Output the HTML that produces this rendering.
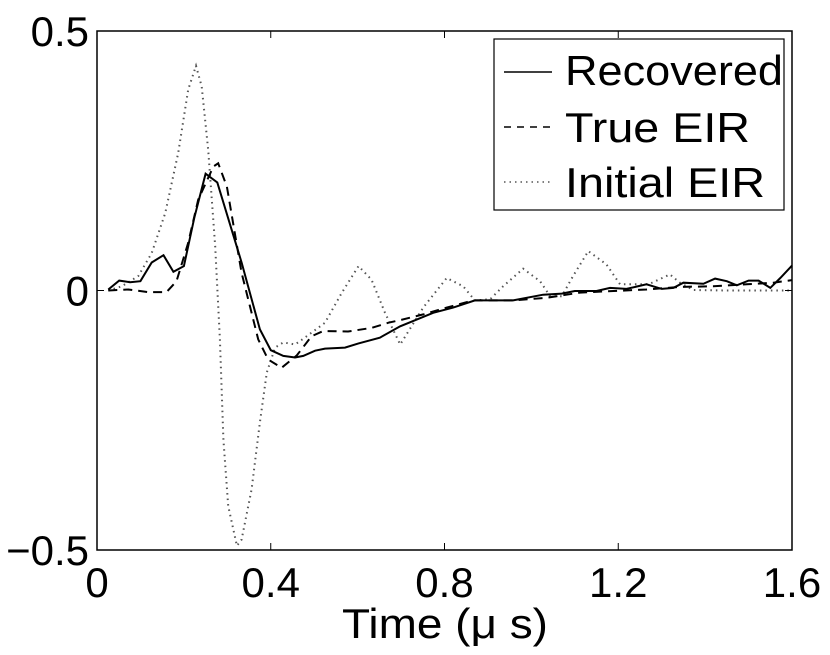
<!DOCTYPE html>
<html><head><meta charset="utf-8"><style>
body{margin:0;background:#fff}
svg{display:block;font-family:"Liberation Sans",Arial,sans-serif}
</style></head><body>
<svg id="chart" width="830" height="655" viewBox="0 0 830 655" xmlns="http://www.w3.org/2000/svg">
<rect x="0" y="0" width="830" height="655" fill="#fff"/>
<g id="marks"></g>
<rect x="97" y="31" width="695" height="519" fill="none" stroke="#000" stroke-width="1.5"/>
<g id="axes"></g>
<text x="445" y="638" font-size="42" text-anchor="middle" textLength="206" lengthAdjust="spacingAndGlyphs">Time (μ s)</text>
<g>
<rect x="494" y="39" width="290" height="171" fill="#fff" stroke="#000" stroke-width="1.2"/>
<line x1="504" y1="72" x2="552" y2="72" stroke="#000" stroke-width="1.5"/>
<text x="565" y="85" font-size="42" textLength="218" lengthAdjust="spacingAndGlyphs">Recovered</text>
<line x1="504" y1="127" x2="552" y2="127" stroke="#000" stroke-width="1.5" stroke-dasharray="7,6"/>
<text x="565" y="142" font-size="42" textLength="185" lengthAdjust="spacingAndGlyphs">True EIR</text>
<line x1="504" y1="182" x2="552" y2="182" stroke="#555" stroke-width="1.5" stroke-dasharray="1.5,4"/>
<text x="565" y="197" font-size="42" textLength="200" lengthAdjust="spacingAndGlyphs">Initial EIR</text>
</g>
</svg>
<script>
const recT=[0.026,0.051,0.076,0.1,0.126,0.153,0.176,0.2,0.224,0.25,0.277,0.333,0.375,0.4,0.429,0.456,0.475,0.502,0.525,0.571,0.602,0.651,0.698,0.736,0.774,0.82,0.87,0.92,0.958,1.027,1.07,1.1,1.15,1.181,1.219,1.265,1.3,1.327,1.35,1.396,1.423,1.45,1.473,1.5,1.523,1.55,1.573,1.6];
const recV=[0.002,0.019,0.016,0.018,0.054,0.068,0.036,0.047,0.14,0.225,0.208,0.054,-0.075,-0.115,-0.126,-0.129,-0.126,-0.116,-0.112,-0.11,-0.102,-0.091,-0.069,-0.056,-0.043,-0.033,-0.019,-0.019,-0.019,-0.008,-0.006,-0.001,-0.001,0.005,0.003,0.012,0.003,0.005,0.015,0.013,0.023,0.018,0.01,0.019,0.019,0.005,0.024,0.048];
const trueT=[0.026,0.072,0.118,0.16,0.183,0.21,0.233,0.268,0.279,0.299,0.333,0.371,0.394,0.425,0.46,0.494,0.521,0.578,0.632,0.671,0.698,0.751,0.805,0.866,0.958,1.035,1.112,1.189,1.265,1.342,1.419,1.496,1.557,1.6];
const trueV=[0,0.002,-0.003,-0.003,0.018,0.092,0.175,0.239,0.245,0.2,0.034,-0.094,-0.133,-0.149,-0.125,-0.088,-0.078,-0.079,-0.072,-0.062,-0.057,-0.046,-0.033,-0.019,-0.019,-0.014,-0.004,-0.001,0.002,0.007,0.008,0.012,0.015,0.02];
const initT=[0.026,0.057,0.095,0.126,0.157,0.187,0.21,0.228,0.241,0.256,0.272,0.283,0.291,0.302,0.322,0.333,0.356,0.375,0.391,0.41,0.429,0.456,0.483,0.525,0.563,0.602,0.632,0.663,0.698,0.751,0.805,0.843,0.87,0.905,0.935,0.981,1.02,1.043,1.07,1.096,1.131,1.173,1.204,1.237,1.27,1.319,1.342,1.373,1.45,1.6];
const initV=[0,0.008,0.028,0.072,0.149,0.265,0.387,0.433,0.393,0.271,0.085,-0.094,-0.287,-0.415,-0.492,-0.48,-0.383,-0.254,-0.158,-0.11,-0.1,-0.104,-0.088,-0.062,-0.005,0.047,0.021,-0.043,-0.104,-0.033,0.024,0.008,-0.019,-0.017,0.008,0.042,0.018,-0.011,-0.011,0.028,0.076,0.05,0.012,0.012,0.012,0.031,0.015,0.001,0,0];
const xTicks=[0,0.4,0.8,1.2,1.6];
const xTickLabels=["0","0.4","0.8","1.2","1.6"];
const yTicks=[-0.5,0,0.5];
const yTickLabels=["\u22120.5","0","0.5"];

const X0=97,X1=792,Y0=550,Y1=31;
const xs=t=>X0+(t-0)/(1.6-0)*(X1-X0);
const ys=v=>Y0-(v+0.5)/1*(Y0-Y1);
const NS="http://www.w3.org/2000/svg";
const marks=document.getElementById('marks');
const axes=document.getElementById('axes');
function path(T,V,name,dash,color){
  const p=document.createElementNS(NS,'path');
  p.setAttribute('d',T.map((t,i)=>(i?'L':'M')+xs(t).toFixed(1)+','+ys(V[i]).toFixed(1)).join(''));
  p.setAttribute('fill','none');p.setAttribute('stroke',color);p.setAttribute('stroke-width','2');
  if(dash)p.setAttribute('stroke-dasharray',dash);
  
  
  marks.appendChild(p);
}
path(initT,initV,'initial-eir-line','1.5,4','#555');
path(trueT,trueV,'true-eir-line','9,6','#000');
path(recT,recV,'recovered-line',null,'#000');
xTicks.forEach((t,i)=>{
  const l=document.createElementNS(NS,'line');
  l.setAttribute('x1',xs(t));l.setAttribute('x2',xs(t));l.setAttribute('y1',Y0);l.setAttribute('y2',Y0-7);l.setAttribute('stroke','#000');
  
  
  axes.appendChild(l);
  const l2=l.cloneNode();l2.setAttribute('y1',Y1);l2.setAttribute('y2',Y1+7);axes.appendChild(l2);
  const tx=document.createElementNS(NS,'text');
  tx.setAttribute('x',xs(t));tx.setAttribute('y',597);tx.setAttribute('font-size','42');tx.setAttribute('text-anchor','middle');
  tx.textContent=xTickLabels[i];
  
  
  axes.appendChild(tx);
});
yTicks.forEach((v,i)=>{
  const l=document.createElementNS(NS,'line');
  l.setAttribute('x1',X0);l.setAttribute('x2',X0+7);l.setAttribute('y1',ys(v));l.setAttribute('y2',ys(v));l.setAttribute('stroke','#000');
  
  
  axes.appendChild(l);
  const l2=l.cloneNode();l2.setAttribute('x1',X1);l2.setAttribute('x2',X1-7);axes.appendChild(l2);
  const tx=document.createElementNS(NS,'text');
  tx.setAttribute('x',89);tx.setAttribute('y',ys(v)+15);tx.setAttribute('font-size','42');tx.setAttribute('text-anchor','end');
  tx.textContent=yTickLabels[i];
  
  
  axes.appendChild(tx);
});
</script>
</body></html>
